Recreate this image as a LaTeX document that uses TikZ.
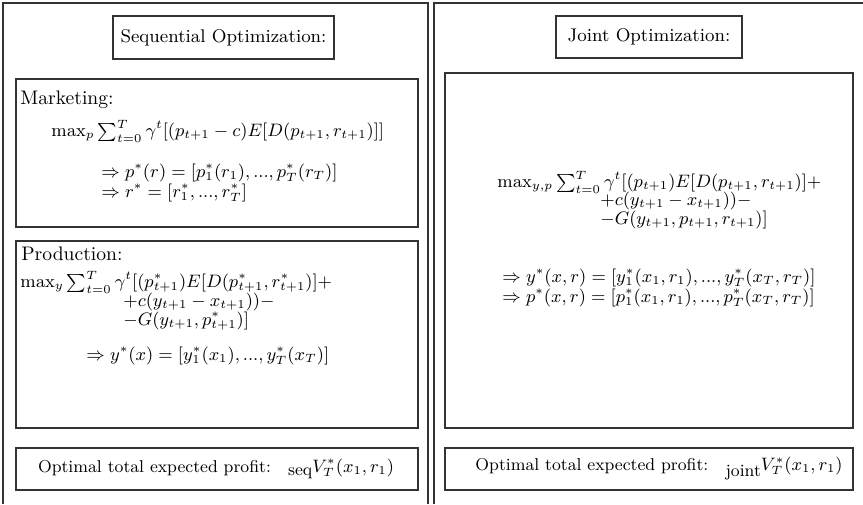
\documentclass[tikz,border=0pt]{standalone}
\usepackage{amsmath}
\begin{document}
\begin{tikzpicture}[x=0.5pt,y=-0.5pt,
  frame/.style={draw=black!80,line width=0.65pt},
  boxline/.style={draw=black!80,line width=0.55pt},
  ttl/.style={inner sep=0pt,font=\fontsize{9.2}{11}\selectfont},
  lbl/.style={inner sep=0pt,anchor=west,font=\fontsize{9.8}{12}\selectfont},
  fml/.style={inner sep=0pt,anchor=west,font=\fontsize{9.1}{11}\selectfont},
  opt/.style={inner sep=0pt,font=\fontsize{8.6}{10}\selectfont}]
\useasboundingbox (0,0) rectangle (863,504);
% outer panels
\draw[frame] (3,504) -- (3,3) -- (428,3) -- (428,504);
\draw[frame] (434,504) -- (434,3) -- (863,3);
% left column
\draw[boxline] (113,16) rectangle (334,59);
\node[ttl] (seqtitle) at (223.5,37.5) {Sequential Optimization:};
\draw[boxline] (16,79) rectangle (418,227);
\node[lbl] (mkt) at (20,100) {Marketing:};
\node[fml] (mkt1) at (51,131) {$\max_p \sum_{t=0}^T \gamma^t[(p_{t+1}-c)E[D(p_{t+1},r_{t+1})]]$};
\node[fml] (mkt2) at (101,173) {$\Rightarrow p^*(r)=[p_1^*(r_1), ..., p_T^*(r_T)]$};
\node[fml] (mkt3) at (101,193) {$\Rightarrow r^*=[r_1^*, ..., r_T^*]$};
\draw[boxline] (16,241) rectangle (418,428);
\node[lbl] (prod) at (21,254) {Production:};
\node[fml] (prod1) at (20,282) {$\max_y \sum_{t=0}^T \gamma^t[(p^*_{t+1})E[D(p^*_{t+1},r^*_{t+1})]+$};
\node[fml] (prod2) at (123,302) {$+c(y_{t+1}-x_{t+1}))-$};
\node[fml] (prod3) at (123,321) {$-G(y_{t+1},p^*_{t+1})]$};
\node[fml] (prod4) at (86,356) {$\Rightarrow y^*(x)=[y_1^*(x_1), ..., y_T^*(x_T)]$};
\draw[boxline] (16,448) rectangle (418,490);
\node[opt] (seqopt) at (216,469) {Optimal total expected profit:\quad $\lower1.5pt\hbox{seq}V_T^*(x_1,r_1)$};
% right column
\draw[boxline] (556,16) rectangle (742,58);
\node[ttl] (jtitle) at (649,37) {Joint Optimization:};
\draw[boxline] (445,73) rectangle (853,428);
\node[fml] (j1) at (497,182) {$\max_{y,p} \sum_{t=0}^T \gamma^t[(p_{t+1})E[D(p_{t+1},r_{t+1})]+$};
\node[fml] (j2) at (600,201) {$+c(y_{t+1}-x_{t+1}))-$};
\node[fml] (j3) at (600,220) {$-G(y_{t+1},p_{t+1},r_{t+1})]$};
\node[fml] (j4) at (502,278) {$\Rightarrow y^*(x,r)=[y_1^*(x_1,r_1), ..., y_T^*(x_T,r_T)]$};
\node[fml] (j5) at (502,298) {$\Rightarrow p^*(x,r)=[p_1^*(x_1,r_1), ..., p_T^*(x_T,r_T)]$};
\draw[boxline] (445,448) rectangle (853,490);
\node[opt] (jopt) at (659,469) {Optimal total expected profit:\quad $\lower3pt\hbox{joint}V_T^*(x_1,r_1)$};
\end{tikzpicture}
\end{document}
